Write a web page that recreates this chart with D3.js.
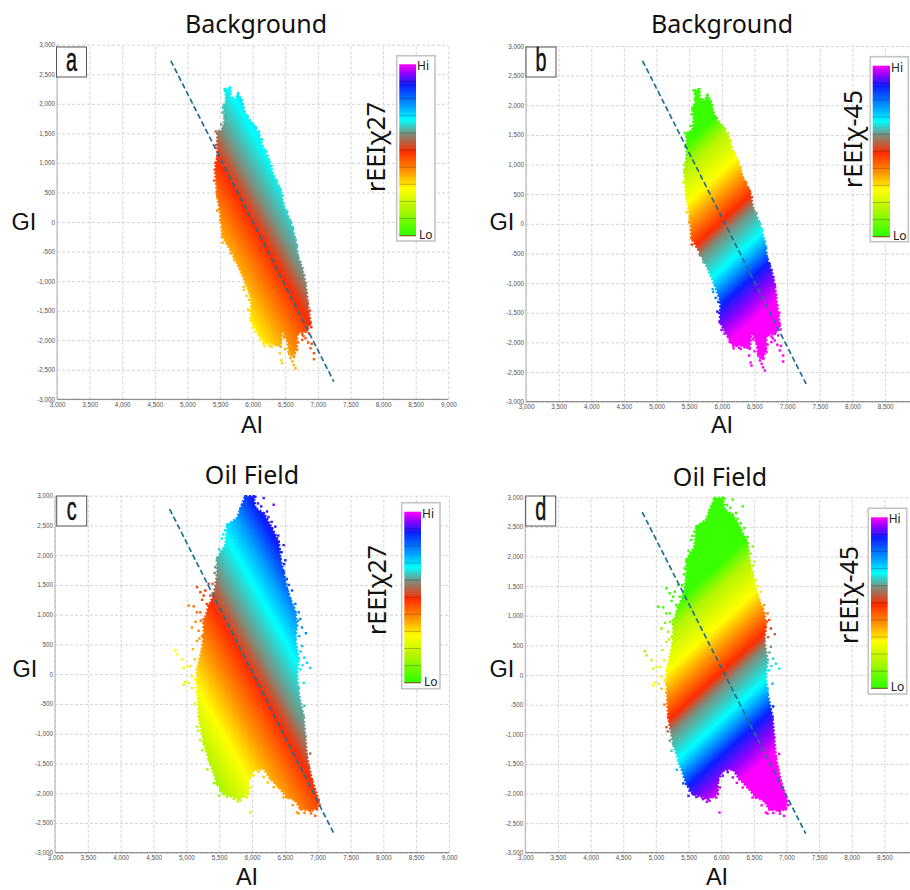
<!DOCTYPE html>
<html><head><meta charset="utf-8">
<script src="https://cdn.jsdelivr.net/npm/d3@7"></script>
<style>html,body{margin:0;padding:0;background:#fff;overflow:hidden}svg{display:block}</style>
</head><body><svg id="c" width="910" height="890"></svg>
<script>
// AI / GI axis ticks
const aiTicks=[3000,3500,4000,4500,5000,5500,6000,6500,7000,7500,8000,8500,9000];
const giTicks=[3000,2500,2000,1500,1000,500,0,-500,-1000,-1500,-2000,-2500,-3000];
// cloud outlines and outlying samples as [AI, GI]
const backgroundOutline=[[5571,2248],[5653,2270],[5663,2096],[5714,2040],[5776,2170],[5827,2068],[5893,1814],[6010,1644],[6097,1475],[6173,1221],[6250,1052],[6326,770],[6429,544],[6480,262],[6582,8],[6658,-302],[6694,-584],[6760,-782],[6811,-1036],[6847,-1374],[6862,-1516],[6888,-1713],[6811,-1854],[6684,-1882],[6674,-2108],[6633,-2277],[6556,-2192],[6530,-1995],[6454,-1826],[6428,-2108],[6301,-2052],[6173,-2052],[6097,-1911],[5969,-1657],[5980,-1318],[5893,-1036],[5714,-584],[5536,-246],[5510,93],[5459,431],[5423,883],[5459,1108],[5459,1503],[5551,1588],[5571,1786],[5551,1955],[5602,2068]];
const backgroundDots=[[5459,194],[5663,-528],[5714,-600],[5893,-951],[5867,-1149],[5945,-1318],[5969,-1657],[6020,-1742],[6071,-1826],[6148,-1995],[6225,-2052],[6352,-2080],[6418,-2221],[6454,-2390],[6440,-2340],[6582,-2305],[6658,-2475],[6630,-2420],[6684,-2164],[6760,-1995],[6811,-1967],[6862,-1882],[6888,-2136],[6939,-2221],[6939,-2322],[6905,-2060],[6862,-1685],[6900,-1780],[6840,-1800],[5612,2150],[5552,1930],[5630,2010],[5640,2220],[5434,1531],[5480,1540],[5430,1000],[6097,1530],[6225,1120],[6405,590],[5830,-800],[5790,-700],[5905,-1250],[5930,-1480],[5995,-1790],[6180,-2100],[6290,-2110],[6560,-2230],[6610,-2360],[6760,-1900],[6830,-1640],[5650,2200],[5700,2100],[5790,2110],[5850,2000],[5920,1790],[6050,1600],[6140,1400],[6200,1200],[6290,950],[6370,700],[6460,450],[6530,180],[6620,-100],[6680,-400],[6730,-680],[6790,-900],[6830,-1200],[6880,-1500],[5540,-350],[5500,30],[5450,500],[5410,700],[5440,1300],[5520,1650],[5540,1850],[5590,2100],[5720,-650],[5860,-1100],[5960,-1500],[6040,-1850],[6120,-1990],[6260,-2090],[6370,-2000],[6480,-1950],[6500,-2150],[6590,-2260],[6700,-2040],[6780,-1930],[6850,-2040]];
const oilOutline=[[5898,2989],[6025,2990],[6051,2791],[6178,2706],[6305,2452],[6406,2226],[6431,1944],[6482,1718],[6533,1435],[6584,1266],[6660,1040],[6685,814],[6660,588],[6711,249],[6685,-34],[6711,-316],[6787,-712],[6812,-1051],[6838,-1390],[6914,-1785],[7015,-2124],[6990,-2266],[6888,-2294],[6736,-2266],[6660,-2124],[6533,-2068],[6406,-1898],[6279,-1757],[6178,-1588],[6025,-1616],[5949,-1785],[5949,-2011],[5797,-2096],[5568,-2011],[5467,-1842],[5365,-1503],[5264,-1164],[5188,-712],[5162,-147],[5162,79],[5238,418],[5264,644],[5264,870],[5340,1153],[5416,1322],[5467,1661],[5467,1944],[5594,2170],[5619,2509],[5771,2622],[5847,2848]];
const oilDots=[[5162,1463],[5213,1379],[5289,1407],[5340,1520],[5365,1322],[5264,1322],[5036,1153],[5112,1141],[5213,1040],[5162,1040],[5264,927],[5086,785],[5188,729],[5289,814],[5239,644],[5340,814],[5162,559],[5264,503],[4832,401],[4858,333],[4934,249],[4959,107],[5010,136],[5061,136],[5086,-34],[4985,-130],[5036,-147],[5086,-232],[5137,-90],[4959,-175],[6330,2848],[6178,2961],[6228,2735],[6355,2480],[6482,2170],[6508,1915],[6482,1718],[6609,1407],[6660,1181],[6711,1040],[6736,927],[6761,785],[6822,689],[6761,475],[6797,277],[6888,107],[6838,192],[6736,79],[6787,-147],[6711,-232],[6797,-531],[6761,-655],[6888,-1333],[6863,-1559],[5975,-2322],[5924,-2068],[5721,-2096],[5822,-2124],[6685,-2322],[6761,-2266],[6964,-2379],[6838,-2237],[5162,-881],[5213,-1107],[5340,-1446],[5518,-1955],[5721,-2011],[6025,-1701],[6178,-1729],[6380,-1842],[6533,-2068],[5949,2961],[6051,2980],[5640,2500],[5560,2350],[5530,2060],[5440,1800],[5820,2780],[6420,2100],[6560,1500],[5900,2850],[5860,2780],[5960,2900],[6090,2870],[6140,2820],[6250,2640],[6300,2560],[6400,2330],[6450,2050],[6490,1850],[6530,1600],[6560,1350],[6640,1120],[6700,900],[6720,640],[6740,380],[6770,150],[5590,2420],[5540,2280],[5500,2100],[5430,1700],[5400,1520],[5240,1250],[5310,1180],[5220,900],[5140,880],[5200,600],[5100,420],[5130,250],[5160,-300],[5130,-500],[5180,-950],[5240,-1280],[5320,-1600],[5420,-1830],[5500,-2040],[5620,-2060],[5780,-2140],[5880,-2060],[5980,-1900],[6100,-1640],[6240,-1820],[6330,-1900],[6480,-2070],[6620,-2200],[6710,-2340],[6800,-2330],[6900,-2340],[7030,-2200]];
// colour ramp: rEEI value at each colour, for the two chi angles
const rampColours=["#39ff00","#b4f500","#ffff00","#ff9a00","#ff2c00","#808a78","#00ffff","#00a5ff","#0a1eff","#9a00ff","#ff00ff"];
const chi27Stops=[3700,4078,4500,4880,5337,5613,6050,6326,6678,7040,7300];
const chiMinus45Stops=[2900,3180,3620,3890,4210,4390,4780,4960,5210,5510,5730];
const legendOffsets=[.02,.16,.275,.37,.49,.59,.675,.75,.88,.95,1];
const legendBands=[.1,.2,.3,.4,.5,.6,.7,.8,.9];

const panels=[
 {id:"a",title:"Background",chi:27,stops:chi27Stops,outline:backgroundOutline,dots:backgroundDots,label:"rEEIχ27",
  x:[57,448.3],y:[44.7,399.3],line:[[4745,2728],[7245,-2700]],titleP:[256,33],aiP:[252,433],giP:[24,230],rotP:[385,147],box:[396.7,55.7,38.3,185.3],bar:[399.3,64.3,16.7,171.4],tag:[56.5,47]},
 {id:"b",title:"Background",chi:-45,stops:chiMinus45Stops,outline:backgroundOutline,dots:backgroundDots,label:"rEEIχ-45",
  x:[526,917.7],y:[46,401.7],line:[[4786,2749],[7290,-2700]],titleP:[722,33],aiP:[722,433],giP:[502,230],rotP:[862,139],box:[870.3,56.7,38,185],bar:[872.7,65.7,17.3,171],tag:[526,47]},
 {id:"c",title:"Oil Field",chi:27,stops:chi27Stops,outline:oilOutline,dots:oilDots,label:"rEEIχ27",
  x:[55,449],y:[495.7,852.7],line:[[4746,2774],[7244,-2672]],titleP:[252,484],aiP:[247,885],giP:[25,677],rotP:[386,590],box:[401.7,502.7,38.3,186],bar:[404.3,511.7,16.7,171],tag:[56.7,496]},
 {id:"d",title:"Oil Field",chi:-45,stops:chiMinus45Stops,outline:oilOutline,dots:oilDots,label:"rEEIχ-45",
  x:[525.3,917],y:[497.3,852.7],line:[[4791,2748],[7295,-2677]],titleP:[720,486],aiP:[717,885],giP:[502,677],rotP:[858,595],box:[868.3,508.3,38.4,185.7],bar:[871,517.3,16.7,171],tag:[525.7,496]}
];

const svg=d3.select("#c");
const defs=svg.append("defs");
const FONT="'Noto Sans',sans-serif";
const AXISFONT="'Liberation Sans',sans-serif";
const fmt=d=>d3.format(",")(d).replace("\u2212","-");

panels.forEach(p=>{
  const x=d3.scaleLinear().domain([3000,9000]).range(p.x);
  const y=d3.scaleLinear().domain([3000,-3000]).range(p.y);
  const g=svg.append("g");
  const rad=p.chi*Math.PI/180, ca=Math.cos(rad), sa=Math.sin(rad);
  const rEEI=d=>d[0]*ca+d[1]*sa;
  const colour=d3.scaleLinear().domain(p.stops).range(rampColours).clamp(true);

  // axes and grid
  const xTicks=aiTicks.filter(t=>x(t)<910);
  const ax=g.append("g").attr("transform",`translate(0,${p.y[1]})`)
    .call(d3.axisBottom(x).tickValues(xTicks).tickFormat(fmt).tickSize(p.y[0]-p.y[1]).tickPadding(-1));
  const ay=g.append("g").attr("transform",`translate(${p.x[0]},0)`)
    .call(d3.axisLeft(y).tickValues(giTicks).tickFormat(fmt).tickSize(p.x[0]-p.x[1]).tickPadding(-1));
  [ax,ay].forEach(a=>{
    a.select(".domain").remove();
    a.selectAll("line").attr("stroke","#cfcfcf").attr("stroke-width",.9).attr("stroke-dasharray","3 2");
    a.selectAll("text").attr("font-size",6.3).attr("font-family",AXISFONT).attr("fill","#333").attr("opacity",.85);
  });
  ax.selectAll("text").attr("y",5).attr("dy",".4em");
  ay.selectAll("text").attr("x",-2);
  g.append("line").attr("x1",p.x[0]).attr("x2",Math.min(p.x[1],910)).attr("y1",p.y[1]).attr("y2",p.y[1]).attr("stroke","#777").attr("stroke-width",1);
  g.append("line").attr("x1",p.x[0]).attr("x2",p.x[0]).attr("y1",p.y[0]).attr("y2",p.y[1]).attr("stroke","#bbb").attr("stroke-width",1.2);

  // gradient whose iso-lines follow rEEI = AI cos(chi) + GI sin(chi)
  const gx=ca/(x(1)-x(0)), gy=sa/(y(1)-y(0));
  const len2=gx*gx+gy*gy;
  const r0=p.stops[0], r1=p.stops[p.stops.length-1];
  const ox=x(6000),oy=y(0),ro=rEEI([6000,0]);
  const gid="grad-"+p.id;
  const lg=defs.append("linearGradient").attr("id",gid).attr("gradientUnits","userSpaceOnUse")
    .attr("x1",ox+gx*(r0-ro)/len2).attr("y1",oy+gy*(r0-ro)/len2)
    .attr("x2",ox+gx*(r1-ro)/len2).attr("y2",oy+gy*(r1-ro)/len2);
  p.stops.forEach((s,i)=>lg.append("stop").attr("offset",(s-r0)/(r1-r0)).attr("stop-color",rampColours[i]));

  // cloud
  const line=d3.line().x(d=>x(d[0])).y(d=>y(d[1])).curve(d3.curveLinearClosed);
  g.append("path").attr("d",line(p.outline)).attr("fill",`url(#${gid})`);
  g.append("path").attr("d",line(p.outline)).attr("fill","none").attr("stroke",`url(#${gid})`)
    .attr("stroke-width",2.6).attr("stroke-dasharray","2 1.6");
  g.selectAll("rect.dot").data(p.dots.concat(p.outline)).join("rect").attr("class","dot")
    .attr("x",d=>x(d[0])-1.2).attr("y",d=>y(d[1])-1.2).attr("width",2.4).attr("height",2.4)
    .attr("fill",d=>colour(rEEI(d)));

  // dashed trend line
  g.append("path").attr("d",d3.line().x(d=>x(d[0])).y(d=>y(d[1]))(p.line))
    .attr("fill","none").attr("stroke","#1f6f94").attr("stroke-width",1.7).attr("stroke-dasharray","5.5 3");

  // colour legend
  g.append("rect").attr("x",p.box[0]).attr("y",p.box[1]).attr("width",p.box[2]).attr("height",p.box[3])
    .attr("fill","#fff").attr("fill-opacity",.82).attr("stroke","#c4c4c4").attr("stroke-width",1.6);
  const lid="legend-"+p.id;
  const lgb=defs.append("linearGradient").attr("id",lid).attr("x1",0).attr("y1",1).attr("x2",0).attr("y2",0);
  legendOffsets.forEach((o,i)=>lgb.append("stop").attr("offset",o).attr("stop-color",rampColours[i]));
  g.append("rect").attr("x",p.bar[0]).attr("y",p.bar[1]).attr("width",p.bar[2]).attr("height",p.bar[3]).attr("fill",`url(#${lid})`);
  const by=d3.scaleLinear().domain([0,1]).range([p.bar[1]+p.bar[3],p.bar[1]]);
  g.selectAll("line.band").data(legendBands).join("line").attr("class","band")
    .attr("x1",p.bar[0]).attr("x2",p.bar[0]+p.bar[2]).attr("y1",d=>by(d)).attr("y2",d=>by(d))
    .attr("stroke","#000").attr("stroke-opacity",.3).attr("stroke-width",.8);
  g.append("line").attr("x1",p.bar[0]).attr("x2",p.bar[0]+p.bar[2]).attr("y1",by(0)).attr("y2",by(0)).attr("stroke","#7a5a20").attr("stroke-width",1.2);
  const tl=(t,xx,yy)=>g.append("text").attr("x",xx).attr("y",yy).text(t).attr("font-family",FONT).attr("font-size",12).attr("fill","#222");
  tl("Hi",p.bar[0]+p.bar[2]+1,p.bar[1]+6); tl("Lo",p.bar[0]+p.bar[2]+3,p.bar[1]+p.bar[3]+3);

  // letter tag
  g.append("rect").attr("x",p.tag[0]).attr("y",p.tag[1]).attr("width",30).attr("height",30).attr("fill","#fff").attr("stroke","#555").attr("stroke-width",1);
  g.append("text").attr("transform",`translate(${p.tag[0]+15},${p.tag[1]+24}) scale(.6,1)`).attr("text-anchor","middle").text(p.id)
    .attr("font-family",AXISFONT).attr("font-size",33).attr("fill","#111").attr("stroke","#111").attr("stroke-width",.5);

  // titles
  const big=(t,pt,fs,fam)=>g.append("text").attr("x",pt[0]).attr("y",pt[1]).attr("text-anchor","middle").text(t).attr("font-family",fam).attr("font-size",fs).attr("fill","#111");
  big(p.title,p.titleP,25,FONT);
  big("AI",p.aiP,23.5,AXISFONT);
  big("GI",p.giP,23.5,AXISFONT);
  g.append("text").attr("transform",`translate(${p.rotP[0]},${p.rotP[1]}) rotate(-90)`).attr("text-anchor","middle").text(p.label)
    .attr("font-family",FONT).attr("font-size",25).attr("fill","#111");
});
</script></body></html>
